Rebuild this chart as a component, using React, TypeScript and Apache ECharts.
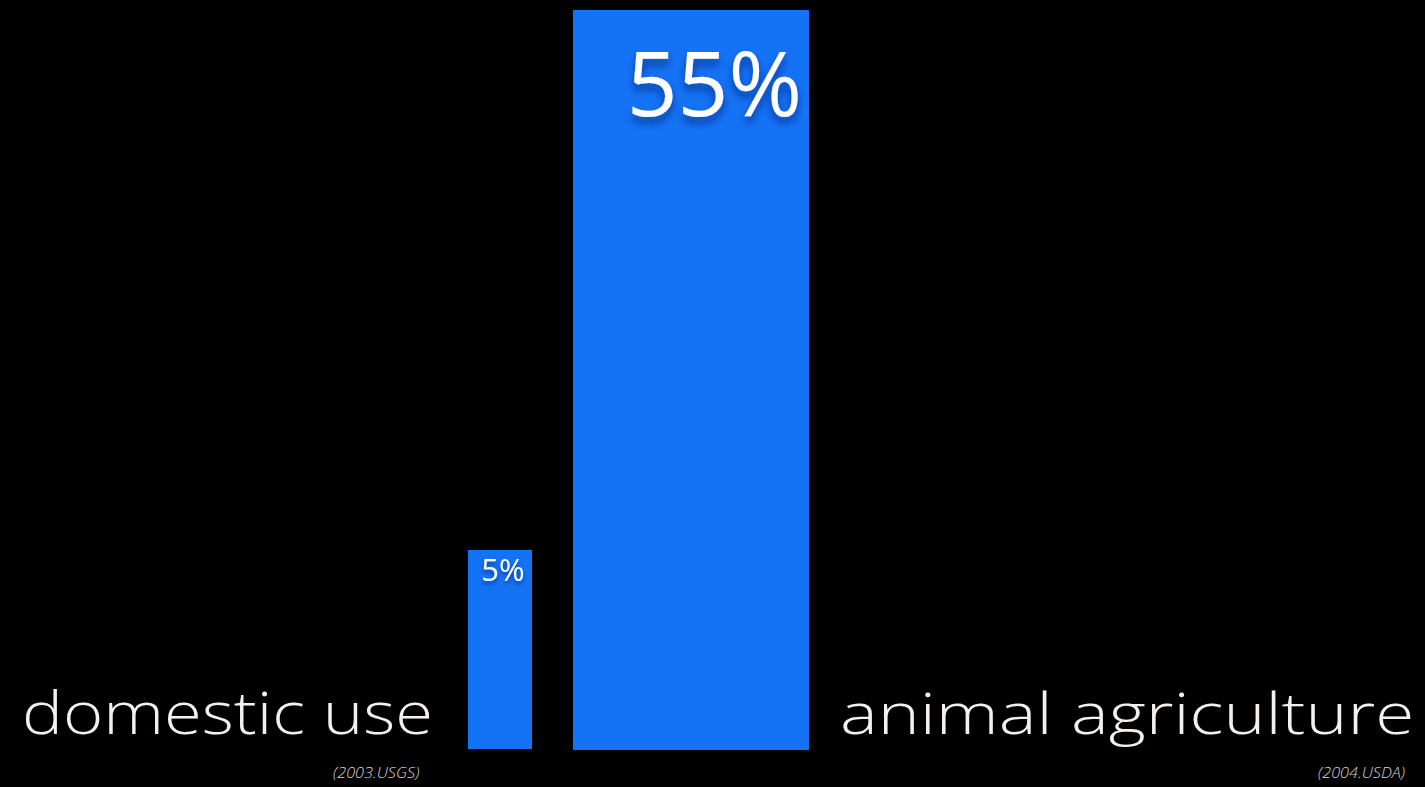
import React, { useEffect, useRef } from "react";
import * as echarts from "echarts";

const categories = ["domestic use", "animal agriculture"];
const sources = ["(2003.USGS)", "(2004.USDA)"];
const domesticValues = [5];
const agricultureValues = [55];
const domesticAxisMax = 5;
const agricultureAxisMax = 55;

const BLUE = "#1473f5";
const TEXT = "#f6f0ec";
const FONT = "'Open Sans', Lato, sans-serif";

export default function App() {
  const ref = useRef<HTMLDivElement>(null);
  useEffect(() => {
    if (!ref.current) return;
    const chart = echarts.init(ref.current, undefined, { renderer: "svg" });
    const labelShadow = {
      textShadowColor: "rgba(0,20,90,0.55)",
      textShadowBlur: 8,
      textShadowOffsetY: 6,
    };
    chart.setOption({
      animation: false,
      backgroundColor: "#000000",
      grid: [
        { left: 468, width: 64, top: 550, height: 199 },
        { left: 573, width: 236, top: 10, height: 740 },
      ],
      xAxis: [
        { type: "category", gridIndex: 0, data: [categories[0]], show: false },
        { type: "category", gridIndex: 1, data: [categories[1]], show: false },
      ],
      yAxis: [
        { type: "value", gridIndex: 0, min: 0, max: domesticAxisMax, show: false },
        { type: "value", gridIndex: 1, min: 0, max: agricultureAxisMax, show: false },
      ],
      series: [
        {
          type: "bar",
          xAxisIndex: 0,
          yAxisIndex: 0,
          data: domesticValues,
          barWidth: "100%",
          itemStyle: { color: BLUE },
          label: {
            show: true,
            position: "insideTop",
            distance: 3,
            offset: [3, 0],
            formatter: "{c}%",
            color: "#ffffff",
            fontFamily: FONT,
            fontWeight: 500,
            fontSize: 31,
            ...labelShadow,
            textShadowBlur: 4,
            textShadowOffsetY: 3,
          },
        },
        {
          type: "bar",
          xAxisIndex: 1,
          yAxisIndex: 1,
          data: agricultureValues,
          barWidth: "100%",
          itemStyle: { color: BLUE },
          label: {
            show: true,
            position: [229, 27],
            align: "right",
            verticalAlign: "top",
            formatter: "{c}%",
            color: "#ffffff",
            fontFamily: FONT,
            fontWeight: 500,
            fontSize: 89,
            ...labelShadow,
          },
        },
      ],
      graphic: [
        {
          type: "text",
          x: 22,
          y: 683,
          scaleX: 1.185,
          style: {
            text: categories[0],
            fill: TEXT,
            font: `300 58px ${FONT}`,
            textVerticalAlign: "top",
          },
        },
        {
          type: "text",
          x: 840,
          y: 683,
          scaleX: 1.228,
          style: {
            text: categories[1],
            fill: TEXT,
            font: `300 58px ${FONT}`,
            textVerticalAlign: "top",
          },
        },
        {
          type: "text",
          x: 333,
          y: 765,
          scaleX: 1.16,
          style: {
            text: sources[0],
            fill: "#d8d4d2",
            font: `italic 300 14px ${FONT}`,
            textVerticalAlign: "top",
          },
        },
        {
          type: "text",
          x: 1318,
          y: 765,
          scaleX: 1.16,
          style: {
            text: sources[1],
            fill: "#d8d4d2",
            font: `italic 300 14px ${FONT}`,
            textVerticalAlign: "top",
          },
        },
      ],
    });
    return () => chart.dispose();
  }, []);
  return (
    <div
      ref={ref}
      style={{ position: "fixed", left: 0, top: 0, width: 1425, height: 787, background: "#000" }}
    />
  );
}
